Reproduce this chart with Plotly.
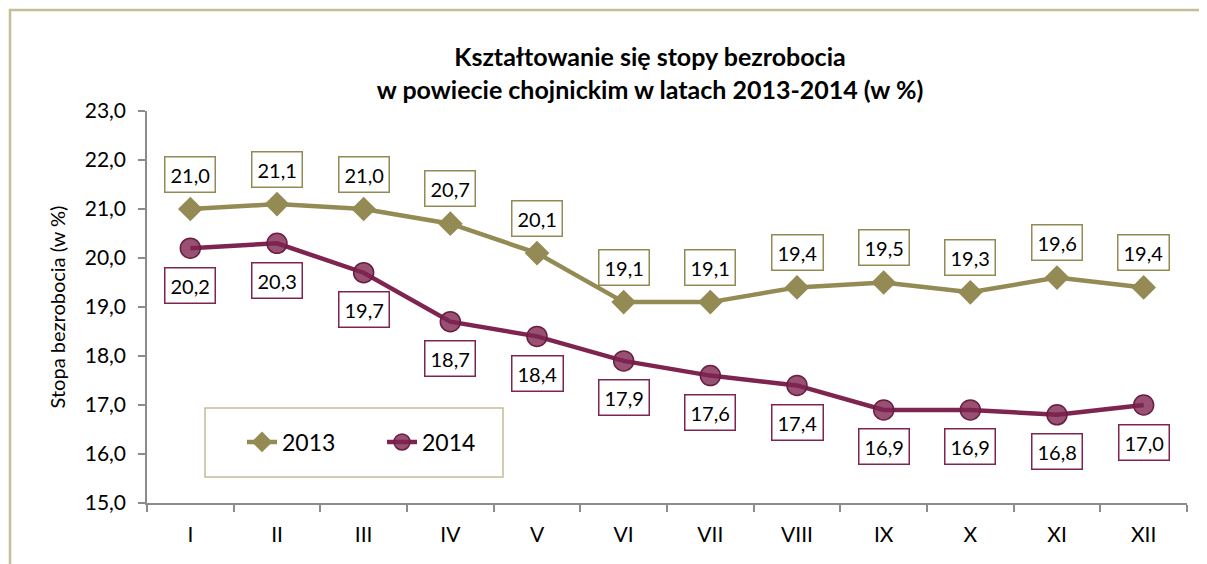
import plotly.graph_objects as go

months = ["I", "II", "III", "IV", "V", "VI", "VII", "VIII", "IX", "X", "XI", "XII"]
rate_2013 = [21.0, 21.1, 21.0, 20.7, 20.1, 19.1, 19.1, 19.4, 19.5, 19.3, 19.6, 19.4]
rate_2014 = [20.2, 20.3, 19.7, 18.7, 18.4, 17.9, 17.6, 17.4, 16.9, 16.9, 16.8, 17.0]
y_ticks = [15.0, 16.0, 17.0, 18.0, 19.0, 20.0, 21.0, 22.0, 23.0]

C13 = "#948A54"
C14 = "#7E2450"
FONT = "Lato"

fig = go.Figure()
fig.add_trace(go.Scatter(
    x=months, y=rate_2013, name="2013", mode="lines+markers",
    line=dict(color=C13, width=4.5),
    marker=dict(symbol="diamond", size=19, color=C13),
))
fig.add_trace(go.Scatter(
    x=months, y=rate_2014, name="2014", mode="lines+markers",
    line=dict(color=C14, width=4.5),
    marker=dict(symbol="circle", size=20, color="rgba(126,36,80,0.8)",
                line=dict(color="#6A1E43", width=1.5)),
))

def fmt(v):
    return f"{v:.1f}".replace(".", ",")

for m, v in zip(months, rate_2013):
    fig.add_annotation(x=m, y=v, text=fmt(v), showarrow=False, yshift=35,
                       bordercolor=C13, borderwidth=1.5, borderpad=5, bgcolor="white",
                       font=dict(family=FONT, size=20, color="black"))
for m, v in zip(months, rate_2014):
    fig.add_annotation(x=m, y=v, text=fmt(v), showarrow=False, yshift=-37,
                       bordercolor=C14, borderwidth=1.5, borderpad=5, bgcolor="white",
                       font=dict(family=FONT, size=20, color="black"))

# outer chart frame (cropped)
fig.add_shape(type="rect", xref="paper", yref="paper",
              x0=(10 - 147) / 1040, x1=1.2, y0=-0.5, y1=1 + (111 - 10) / 392,
              line=dict(color="#C4BD97", width=2.5), layer="below")
# legend frame
fig.add_shape(type="rect", xref="paper", yref="paper",
              x0=(205 - 147) / 1040, x1=(503 - 147) / 1040,
              y0=(503 - 477) / 392, y1=(503 - 408) / 392,
              line=dict(color="#C4BD97", width=1.5), fillcolor="white", layer="below")

fig.update_layout(
    width=1207, height=564,
    margin=dict(l=139, r=28, t=103, b=69),
    paper_bgcolor="white", plot_bgcolor="white",
    separators=", ",
    font=dict(family=FONT, size=21, color="black"),
    title=dict(text="<b>Kształtowanie się stopy bezrobocia<br>w powiecie chojnickim w latach 2013-2014 (w %)</b>",
               x=(650 - 147) / 1040, xref="paper", xanchor="center",
               y=1 - 58 / 564, yanchor="top", yref="container",
               font=dict(family=FONT, size=25, color="black")),
    showlegend=True,
    legend=dict(orientation="h", x=(242 - 147) / 1040, y=(503 - 442) / 392,
                xanchor="left", yanchor="middle", bgcolor="rgba(0,0,0,0)",
                font=dict(family=FONT, size=23), entrywidth=95, entrywidthmode="pixels"),
)
fig.update_xaxes(
    type="category", range=[-0.5, 11.5], showgrid=False,
    showline=True, linecolor="#8C8C8C", linewidth=1.5,
    ticks="outside", tickson="boundaries", ticklen=7, tickcolor="#8C8C8C", tickwidth=1.5,
    tickfont=dict(family=FONT, size=21), ticklabelstandoff=12,
)
fig.update_yaxes(
    range=[15, 23], tickvals=y_ticks, tickformat=".1f", showgrid=False,
    showline=True, linecolor="#8C8C8C", linewidth=1.5,
    ticks="outside", ticklen=7, tickcolor="#8C8C8C", tickwidth=1.5,
    tickfont=dict(family=FONT, size=21), ticklabelstandoff=8,
    title=dict(text="Stopa bezrobocia (w %)", font=dict(family=FONT, size=20), standoff=14),
    zeroline=False,
)

fig.write_html("out.html")
